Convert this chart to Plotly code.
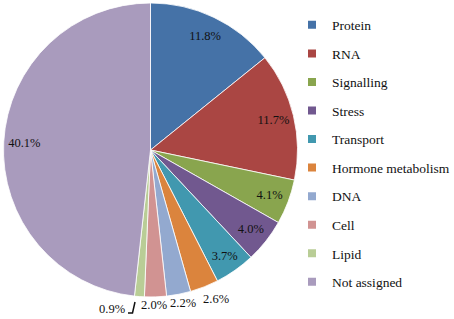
import plotly.graph_objects as go

categories = ["Protein", "RNA", "Signalling", "Stress", "Transport",
              "Hormone metabolism", "DNA", "Cell", "Lipid", "Not assigned"]
values = [11.8, 11.7, 4.1, 4.0, 3.7, 2.6, 2.2, 2.0, 0.9, 40.1]
colors = ["#4572A7", "#AA4643", "#89A54E", "#71588F", "#4198AF",
          "#DB843D", "#93A9CF", "#D19392", "#B9CD96", "#A99BBD"]

# which labels sit inside the pie; the small ones are written below it
inside_label = [True, True, True, True, True, False, False, False, False, True]
# pixel positions (layout only) of the outside labels, in slice order
outside_pos = {5: (216, 299), 6: (182.5, 303), 7: (154, 305), 8: (111.5, 309)}

W, H = 454, 319
FONT = "Liberation Serif, Times New Roman, serif"
DOMAIN = dict(x=[3.5 / W, 297.5 / W], y=[1 - 297 / H, 1 - 3 / H])

fig = go.Figure()
# the coloured pie
fig.add_trace(go.Pie(
    labels=categories, values=values, sort=False, direction="clockwise",
    rotation=0, marker=dict(colors=colors, line=dict(color="white", width=0.8)),
    textinfo="none", showlegend=False, hoverinfo="label+value",
    domain=DOMAIN,
))
# transparent ring carrying the inside labels near the rim
fig.add_trace(go.Pie(
    labels=categories, values=values, sort=False, direction="clockwise",
    rotation=0, hole=0.72,
    marker=dict(colors=["rgba(0,0,0,0)"] * len(values), line=dict(width=0)),
    texttemplate="%{value:.1f}%",
    textposition=["inside" if f else "none" for f in inside_label],
    insidetextorientation="horizontal",
    textfont=dict(family=FONT, size=12.5, color="#111111"),
    showlegend=False, hoverinfo="skip",
    domain=DOMAIN,
))
for cat, col in zip(categories, colors):
    fig.add_trace(go.Scatter(
        x=[None], y=[None], mode="markers", name=cat, legendgroup=cat,
        marker=dict(symbol="square", size=8, color=col),
    ))

annotations = []
for i, (px, py) in outside_pos.items():
    annotations.append(dict(
        x=px / W, y=1 - py / H, xref="paper", yref="paper",
        text=f"{values[i]:.1f}%", showarrow=False,
        xanchor="center", yanchor="middle",
        font=dict(family=FONT, size=12.5, color="#111111"),
    ))

# leader line for the smallest slice label
shapes = [dict(
    type="path", xref="paper", yref="paper",
    path=(f"M {135/W},{1-302/H} L {132.5/W},{1-313/H} L {128/W},{1-313/H}"),
    line=dict(color="#111111", width=1.5),
)]

fig.update_layout(
    width=W, height=H,
    margin=dict(l=0, r=0, t=0, b=0, autoexpand=False),
    paper_bgcolor="white", plot_bgcolor="white",
    font=dict(family=FONT, size=13.5, color="#111111"),
    uniformtext=dict(mode="show", minsize=12.5),
    xaxis=dict(visible=False), yaxis=dict(visible=False),
    legend=dict(x=292 / W, xanchor="left", y=0.97, yanchor="top",
                tracegroupgap=8, font=dict(family=FONT, size=13.5, color="#111111"),
                itemwidth=30, bgcolor="rgba(0,0,0,0)"),
    annotations=annotations, shapes=shapes,
)
fig.write_html(
    "out.html",
    config={"displayModeBar": False},
    post_script="document.body.style.margin='0';document.body.style.overflow='hidden';",
)
